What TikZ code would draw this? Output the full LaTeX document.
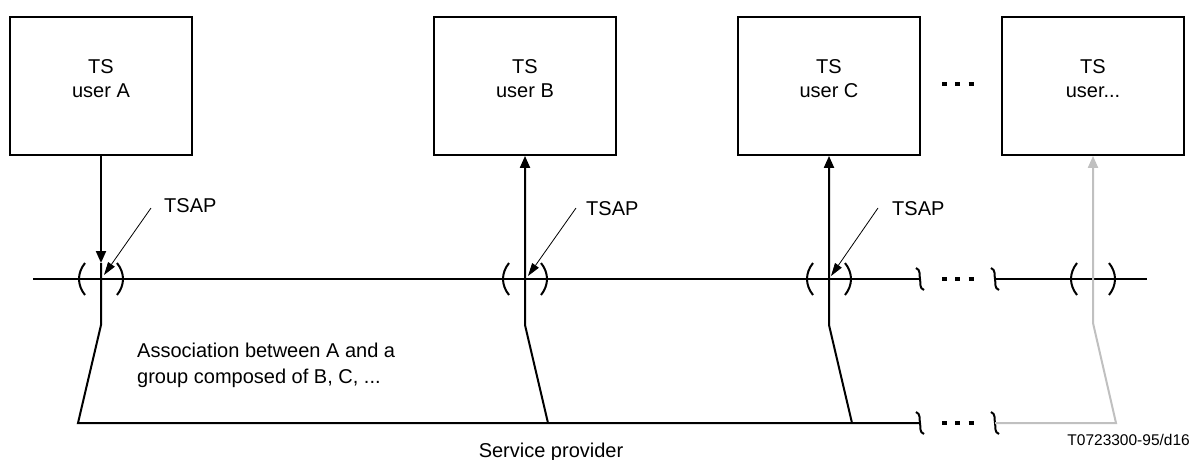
\documentclass[tikz,border=0pt]{standalone}
\usepackage{fontspec}
\setmainfont{Liberation Sans}
\usetikzlibrary{arrows.meta}
\definecolor{lightgr}{RGB}{192,192,192}
\tikzset{
  box/.style={draw, line width=1.8pt, minimum width=182pt, minimum height=138pt, inner sep=0pt},
  lbl/.style={font=\fontsize{20}{24}\selectfont, inner sep=0pt},
  smalllbl/.style={font=\fontsize{15.5}{18}\selectfont, inner sep=0pt},
  wire/.style={line width=2pt},
  tipwire/.style={wire, -{Triangle[length=12pt,width=10pt]}},
  leader/.style={line width=0.8pt, -{Triangle[length=13pt,width=8pt]}},
  brk/.style={line width=2pt},
  dotrow/.style={line width=3.5pt, dash pattern=on 5pt off 8.3pt},
  brkmark/.pic={\draw[brk] (-4,-11) .. controls (1,-9) and (-1,-4) .. (0,0) .. controls (1,5) and (-1,9) .. (4,11);},
  brackets/.pic={\draw[brk] (-16,-16) .. controls (-24,-6) and (-24,6) .. (-16,16);
                 \draw[brk] (16,-16) .. controls (24,-6) and (24,6) .. (16,16);}
}
\begin{document}
\begin{tikzpicture}[x=1pt,y=-1pt]
\useasboundingbox (0,0) rectangle (1193,459);

% boxes
\node[box] (A) at (101,86) {};
\node[box] (B) at (525,86) {};
\node[box] (C) at (829,86) {};
\node[box] (D) at (1093,86) {};
\node[lbl, anchor=base] (At) at (101,73) {TS};
\node[lbl, anchor=base] (Au) at (101,97) {user A};
\node[lbl, anchor=base] (Bt) at (525,73) {TS};
\node[lbl, anchor=base] (Bu) at (525,97) {user B};
\node[lbl, anchor=base] (Ct) at (829,73) {TS};
\node[lbl, anchor=base] (Cu) at (829,97) {user C};
\node[lbl, anchor=base] (Dt) at (1093,73) {TS};
\node[lbl, anchor=base] (Du) at (1093,97) {user...};
\draw[dotrow] (942,84) -- (974,84);

% coordinates
\coordinate (hl) at (33,279);
\coordinate (hr) at (1147,279);
\coordinate (brk1) at (920,279);
\coordinate (brk2) at (995,279);
\coordinate (brk3) at (920,423);
\coordinate (brk4) at (995,423);
\coordinate (Aarr) at (101,263);
\coordinate (Abend) at (101,325);
\coordinate (Abot) at (78,423);
\coordinate (Bbend) at (525,325);
\coordinate (Bbot) at (548,423);
\coordinate (Cbend) at (829,325);
\coordinate (Cbot) at (852,423);
\coordinate (Dbend) at (1093,323);
\coordinate (Dbot) at (1116,423);

% service provider lines
\draw[wire] (hl) -- (brk1);
\draw[wire] (brk2) -- (hr);
\draw[dotrow] (942,279) -- (974,279);
\draw[dotrow] (942,423) -- (974,423);
\pic at (brk1) {brkmark};
\pic at (brk2) {brkmark};
\pic at (brk3) {brkmark};
\pic at (brk4) {brkmark};

% user connections
\draw[tipwire] (A.south) -- (Aarr);
\draw[wire] (Aarr) -- (Abend) -- (Abot) -- (brk3);
\draw[tipwire] (Bbot) -- (Bbend) -- (B.south);
\draw[tipwire] (Cbot) -- (Cbend) -- (C.south);
\draw[tipwire, lightgr] (brk4) -- (Dbot) -- (Dbend) -- (D.south);

% brackets (TSAPs)
\pic at (101,279) {brackets};
\pic at (525,279) {brackets};
\pic at (829,279) {brackets};
\pic at (1093,279) {brackets};

% TSAP labels
\coordinate (As) at (151,208);
\coordinate (Atip) at (104,275);
\coordinate (Bs) at (576,208);
\coordinate (Btip) at (528,276);
\coordinate (Cs) at (878,208);
\coordinate (Ctip) at (831,276);
\draw[leader] (As) -- (Atip);
\draw[leader] (Bs) -- (Btip);
\draw[leader] (Cs) -- (Ctip);
\node[lbl, anchor=base west] (Atsap) at (164,212) {TSAP};
\node[lbl, anchor=base west] (Btsap) at (586,215) {TSAP};
\node[lbl, anchor=base west] (Ctsap) at (892,215) {TSAP};

% texts
\node[lbl, anchor=base west] (assoc1) at (137,357) {Association between A and a};
\node[lbl, anchor=base west] (assoc2) at (137,383) {group composed of B, C, ...};
\node[lbl, anchor=base] (sp) at (551,457) {Service provider};
\node[smalllbl, anchor=base east] (ref) at (1190,445) {T0723300-95/d16};
\end{tikzpicture}
\end{document}
